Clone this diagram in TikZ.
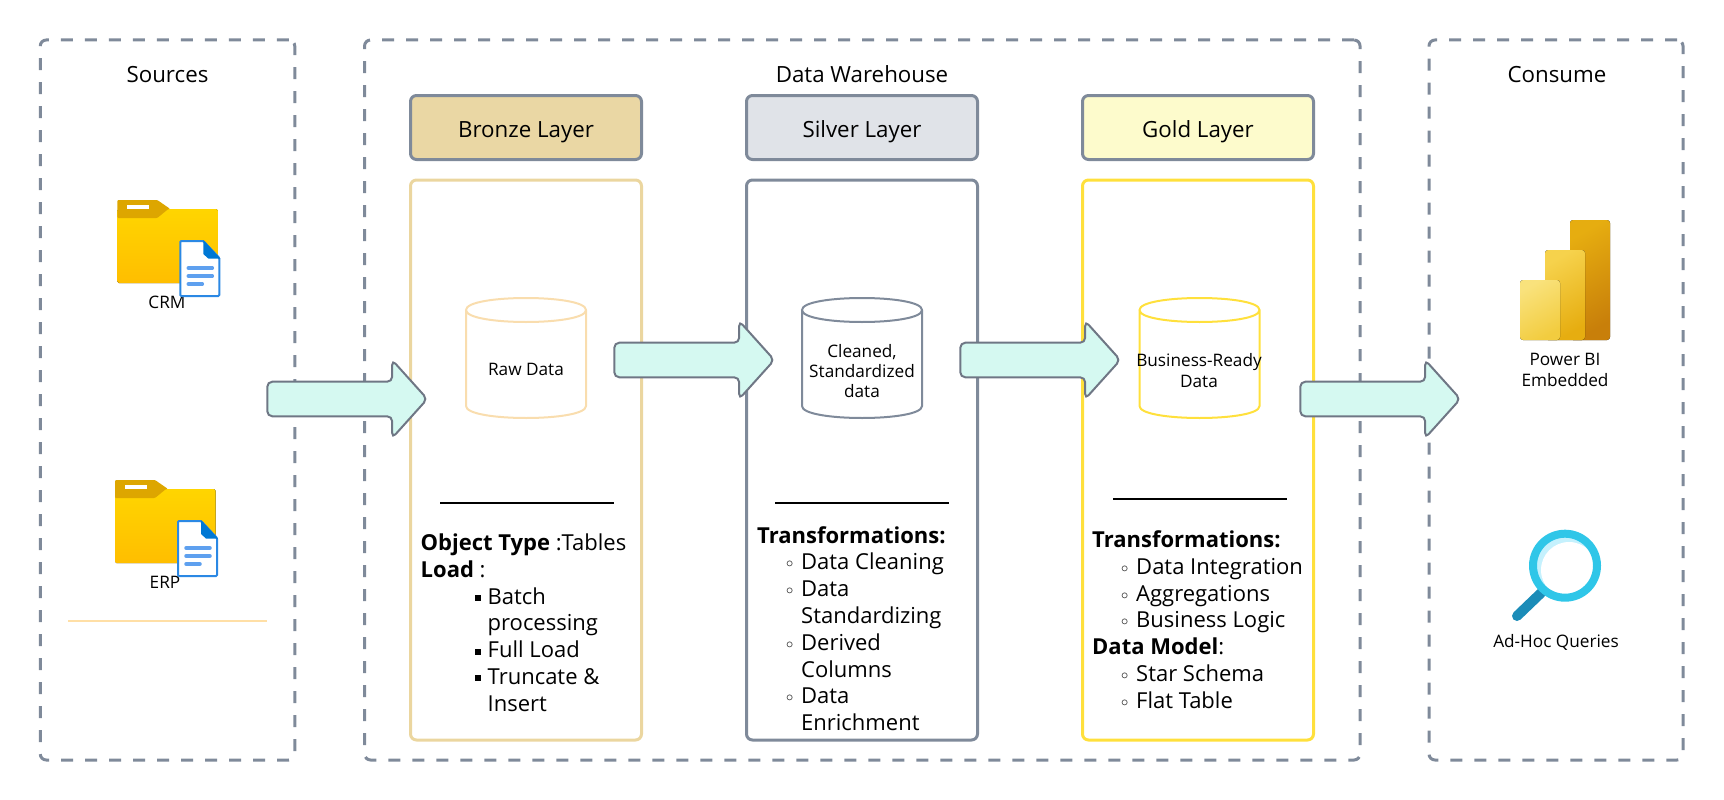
\documentclass[tikz,border=0pt]{standalone}
\usepackage{fontspec}
\setmainfont{Open Sans}
\usetikzlibrary{positioning, shapes.arrows}
\definecolor{frameColor}{HTML}{7F8A9A}
\definecolor{arrowColor}{HTML}{6F7785}
\definecolor{arrowFill}{HTML}{D5F9F1}
\definecolor{bronzeFill}{HTML}{EAD7A4}
\definecolor{bronzeLine}{HTML}{EBD69F}
\definecolor{bronzeStore}{HTML}{F9DDAE}
\definecolor{silverFill}{HTML}{E0E3E8}
\definecolor{goldFill}{HTML}{FDFBCC}
\definecolor{goldLine}{HTML}{FFE03C}
\definecolor{ruleOrange}{HTML}{FFDFA6}
\definecolor{folderTop}{HTML}{FFD500}
\definecolor{folderBottom}{HTML}{FFBE00}
\definecolor{folderTab}{HTML}{DDA600}
\definecolor{docBlue}{HTML}{2B88E4}
\definecolor{docFold}{HTML}{0078D4}
\definecolor{docLines}{HTML}{5EA0EF}
\definecolor{lensRing}{HTML}{2FC6E8}
\definecolor{lensGlow}{HTML}{C5F1FD}
\definecolor{lensHandle}{HTML}{1B8CB8}
\definecolor{barDarkTop}{HTML}{E6AD10}
\definecolor{barDarkEnd}{HTML}{C87F0A}
\definecolor{barMidTop}{HTML}{F6D24C}
\definecolor{barLightTop}{HTML}{F9E27C}
\definecolor{barLightEnd}{HTML}{F2CC3F}
\tikzstyle{canvas} = [x = 1pt, y = -1pt]
\tikzstyle{frameBox} = [draw=frameColor, line width=3pt, dash pattern=on 12pt off 12pt, rounded corners=6pt, inner sep=0pt]
\tikzstyle{headerBox} = [draw=frameColor, line width=3pt, rounded corners=6pt, minimum width=231pt, minimum height=64pt, inner sep=0pt, text height=21pt, text depth=1pt, font=\fontsize{22.3}{26}\selectfont]
\tikzstyle{panelBox} = [line width=3pt, rounded corners=6pt, minimum width=231pt, minimum height=560pt, inner sep=0pt]
\tikzstyle{titleText} = [font=\fontsize{22.3}{26}\selectfont, inner sep=0pt]
\tikzstyle{smallText} = [font=\fontsize{17.2}{20.3}\selectfont, align=center, inner sep=0pt]
\tikzstyle{listText} = [font=\fontsize{22}{26.8}\selectfont, align=left, inner sep=0pt, anchor=north west]
\tikzstyle{flowArrow} = [draw=arrowColor, fill=arrowFill, line width=2pt, rounded corners=5pt, single arrow, minimum height=160pt, minimum width=78pt, single arrow head extend=19pt, single arrow tip angle=96, inner xsep=0pt, inner ysep=14.14pt]
\tikzstyle{separator} = [color=black, line width=2pt]
\newcommand{\squareItem}[1]{\hspace*{54.5pt}\makebox[12.5pt][l]{\raisebox{3pt}{\rule{6pt}{6pt}}}#1}
\newcommand{\roundItem}[1]{\hspace*{29pt}\makebox[15pt][l]{\raisebox{2pt}{\fontsize{15}{15}\selectfont$\circ$}}#1}
\newcommand{\moreItem}[2]{\hspace*{#1}#2}
\newcommand{\storeShape}[3]{\filldraw [draw=#3, fill=white, line width=2pt] (#1 - 60, #2 + 12) -- (#1 - 60, #2 + 108) .. controls (#1 - 60, #2 + 124) and (#1 + 60, #2 + 124) .. (#1 + 60, #2 + 108) -- (#1 + 60, #2 + 12) .. controls (#1 + 60, #2 - 4) and (#1 - 60, #2 - 4) .. (#1 - 60, #2 + 12) .. controls (#1 - 60, #2 + 28) and (#1 + 60, #2 + 28) .. (#1 + 60, #2 + 12);}
\newcommand{\folderBack}[2]{
  \begin{scope}[shift={(#1,#2)}]
    \fill [top color=folderTop, bottom color=folderBottom, rounded corners=1.5pt] (0,9) rectangle (100.5,83);
    \fill [folderTab, rounded corners=1pt] (0,18) -- (0,0) -- (40,0) -- (53,9) -- (51,9) -- (40,18) -- cycle;
    \fill [white] (10,5) rectangle (32,9);
  \end{scope}
}
\newcommand{\folderDoc}[2]{
  \begin{scope}[shift={(#1,#2)}]
    \filldraw [draw=docBlue, fill=white, line width=2pt, rounded corners=1pt] (63,41) -- (86,41) -- (102,58) -- (102,96) -- (63,96) -- cycle;
    \fill [docFold] (86,40) -- (103,58.5) -- (91,58.5) -- (86,54) -- cycle;
    \draw [docLines, line width=3.5pt, line cap=round] (71,68) -- (95,68);
    \draw [docLines, line width=3.5pt, line cap=round] (71,76) -- (95,76);
    \draw [docLines, line width=3.5pt, line cap=round] (71,84) -- (85,84);
  \end{scope}
}
\newcommand{\powerBar}[4]{\fill [top color=#3, bottom color=#4, shading angle=30, rounded corners=3pt] (#1,#2) rectangle (#1 + 40,340);}
\begin{document}
\begin{tikzpicture}[canvas]
  \useasboundingbox (0,0) rectangle (1724,800);

  \node (sourcesFrame) [frameBox, minimum width=254.5pt, minimum height=720pt] at (167.5,400) {};
  \node (warehouseFrame) [frameBox, minimum width=995.5pt, minimum height=720pt] at (862.3,400) {};
  \node (consumeFrame) [frameBox, minimum width=254pt, minimum height=720pt] at (1556,400) {};
  \node (sourcesTitle) [titleText] at (167.5,75) {Sources};
  \node (warehouseTitle) [titleText] at (862,74.5) {Data Warehouse};
  \node (consumeTitle) [titleText] at (1557,75) {Consume};

  \node (bronzeHeader) [headerBox, fill=bronzeFill] at (526,127.5) {Bronze Layer};
  \node (silverHeader) [headerBox, fill=silverFill] at (862,127.5) {Silver Layer};
  \node (goldHeader) [headerBox, fill=goldFill] at (1198,127.5) {Gold Layer};

  \node (bronzePanel) [panelBox, draw=bronzeLine] at (526,460) {};
  \node (silverPanel) [panelBox, draw=frameColor] at (862,460) {};
  \node (goldPanel) [panelBox, draw=goldLine] at (1198,460) {};

  \storeShape{526}{298}{bronzeStore}
  \storeShape{862}{298}{frameColor}
  \storeShape{1199.5}{298}{goldLine}
  \node (rawText) [smallText] at (526,369.5) {Raw Data};
  \node (cleanText) [smallText] at (862,371) {Cleaned,\\Standardized\\data};
  \node (readyText) [smallText] at (1199,370.5) {Business-Ready\\Data};

  \draw [separator] (440,503) -- (614,503);
  \draw [separator] (775,503) -- (949,503);
  \draw [separator] (1113,499) -- (1287,499);
  \draw [color=ruleOrange, line width=2pt] (68,621) -- (267,621);

  \node (bronzeList) [listText] at (420.5,533.5) {\textbf{Object Type} :Tables\\\textbf{Load} :\\
    \squareItem{Batch}\\\moreItem{67pt}{processing}\\\squareItem{Full Load}\\\squareItem{Truncate \&}\\\moreItem{67pt}{Insert}};
  \node (silverList) [listText] at (757,526) {\textbf{Transformations:}\\
    \roundItem{Data Cleaning}\\\roundItem{Data}\\\moreItem{44pt}{Standardizing}\\\roundItem{Derived}\\\moreItem{44pt}{Columns}\\\roundItem{Data}\\\moreItem{44pt}{Enrichment}};
  \node (goldList) [listText] at (1092,530.5) {\textbf{Transformations:}\\
    \roundItem{Data Integration}\\\roundItem{Aggregations}\\\roundItem{Business Logic}\\\textbf{Data Model}:\\\roundItem{Star Schema}\\\roundItem{Flat Table}};

  \folderBack{117.3}{200}
  \node (crmLabel) [smallText] at (167,302.5) {CRM};
  \folderDoc{117.3}{200}
  \folderBack{115}{480}
  \node (erpLabel) [smallText] at (165,582.5) {ERP};
  \folderDoc{115}{480}

  \powerBar{1570}{220}{barDarkTop}{barDarkEnd}
  \powerBar{1545}{250}{barMidTop}{barDarkTop}
  \powerBar{1520}{280}{barLightTop}{barLightEnd}
  \node (powerLabel) [smallText] at (1565,370) {Power BI\\Embedded};

  \draw [lensHandle, line width=10pt, line cap=round] (1517,616) -- (1541,593);
  \fill [lensGlow] (1565,565.7) circle [radius=29];
  \fill [white] (1569,570) circle [radius=28];
  \draw [lensRing, line width=8pt] (1565,565.7) circle [radius=32];
  \node (queryLabel) [smallText] at (1556,642.5) {Ad-Hoc Queries};

  \node (sourcesArrow) [flowArrow] at (339.5,399) {};
  \node (bronzeArrow) [flowArrow] at (686.5,360) {};
  \node (silverArrow) [flowArrow] at (1032.5,360) {};
  \node (goldArrow) [flowArrow] at (1372.5,399) {};
\end{tikzpicture}
\end{document}
